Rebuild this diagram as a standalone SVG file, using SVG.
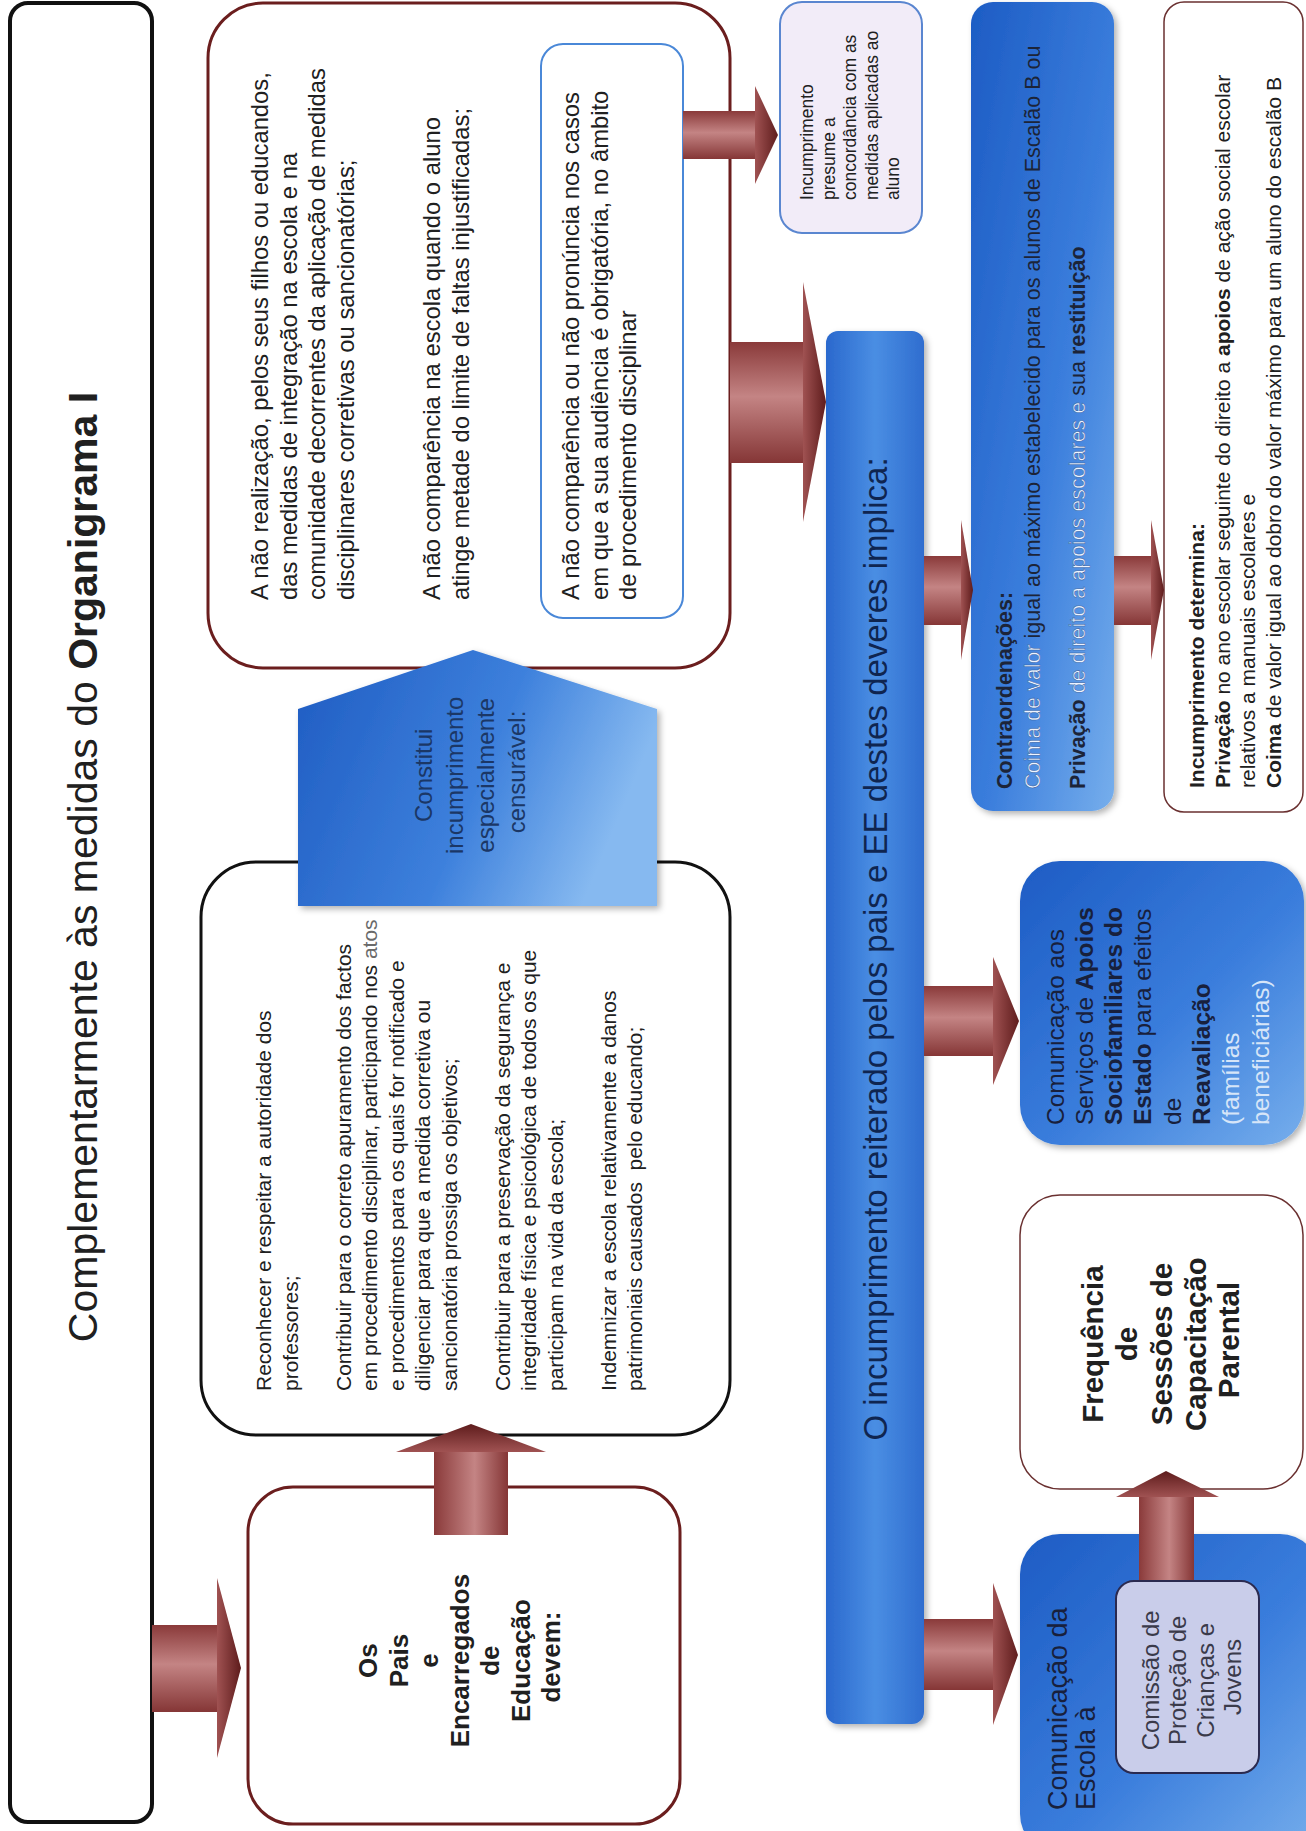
<svg xmlns="http://www.w3.org/2000/svg" width="1306" height="1831" viewBox="0 0 1306 1831">
<style>
.t{font-family:"Liberation Sans",Arial,sans-serif;fill:#202020}
.b{font-weight:bold}
.box{fill:#fff}
.red{stroke:#6b1e1e;stroke-width:3}
.blk{stroke:#111;stroke-width:3}
.blue{filter:url(#sh)}
.lt{fill:#eef4ff;stroke:#2f5a9e;stroke-width:0.5}
</style>
<defs>
<filter id="sh" x="-10%" y="-10%" width="125%" height="125%"><feDropShadow dx="3" dy="3" stdDeviation="3" flood-color="#000" flood-opacity="0.3"/></filter>
<linearGradient id="blueG" x1="0" y1="0" x2="1" y2="1"><stop offset="0" stop-color="#1d5cc4"/><stop offset="0.55" stop-color="#3a7ddc"/><stop offset="1" stop-color="#76aeec"/></linearGradient>
<linearGradient id="barG" x1="0" y1="0" x2="1" y2="0"><stop offset="0" stop-color="#2a68cd"/><stop offset="0.5" stop-color="#4a8ee3"/><stop offset="1" stop-color="#2f6dcf"/></linearGradient>
<linearGradient id="pentG" x1="0" y1="0" x2="1" y2="0.3"><stop offset="0" stop-color="#1f5cc2"/><stop offset="0.6" stop-color="#3d80dc"/><stop offset="1" stop-color="#86b9f0"/></linearGradient>
<linearGradient id="arrH" x1="0" y1="0" x2="0" y2="1"><stop offset="0" stop-color="#8a3a3a"/><stop offset="0.45" stop-color="#c48484"/><stop offset="1" stop-color="#853636"/></linearGradient>
<linearGradient id="arrV" x1="0" y1="0" x2="1" y2="0"><stop offset="0" stop-color="#8a3a3a"/><stop offset="0.55" stop-color="#c48484"/><stop offset="1" stop-color="#853636"/></linearGradient>
<linearGradient id="headH" x1="0" y1="0" x2="1" y2="0"><stop offset="0" stop-color="#a05252"/><stop offset="1" stop-color="#5e1c1c"/></linearGradient>
<linearGradient id="headV" x1="0" y1="1" x2="0" y2="0"><stop offset="0" stop-color="#a05252"/><stop offset="1" stop-color="#5e1c1c"/></linearGradient>
</defs>
<rect width="1306" height="1831" fill="#fff"/>

<g id="title">
<rect x="10" y="3" width="142" height="1819" rx="18" fill="#fff" stroke="#111" stroke-width="4"/>
<text class="t" font-size="41" text-anchor="middle" transform="translate(0,867) rotate(-90)"><tspan x="0" y="97">Complementarmente às medidas do <tspan class="b">Organigrama I</tspan></tspan></text>
</g>

<g id="incumprimentos">
<rect class="box red" x="208" y="3" width="522" height="665" rx="55"/>
<text class="t" font-size="23.8" transform="translate(0,600) rotate(-90)">
<tspan x="0" y="268">A não realização, pelos seus filhos ou educandos,</tspan>
<tspan x="0" y="296.5">das medidas de integração na escola e na</tspan>
<tspan x="0" y="325">comunidade decorrentes da aplicação de medidas</tspan>
<tspan x="0" y="353.5">disciplinares corretivas ou sancionatórias;</tspan>
<tspan x="0" y="440">A não comparência na escola quando o aluno</tspan>
<tspan x="0" y="468.5">atinge metade do limite de faltas injustificadas;</tspan>
</text>
</g>

<g id="audiencia">
<rect x="541" y="44" width="142" height="574" rx="22" fill="#fff" stroke="#4a88d8" stroke-width="2"/>
<text class="t" font-size="23.8" transform="translate(0,600) rotate(-90)">
<tspan x="0" y="579">A não comparência ou não pronúncia nos casos</tspan>
<tspan x="0" y="607.5">em que a sua audiência é obrigatória, no âmbito</tspan>
<tspan x="0" y="636">de procedimento disciplinar</tspan>
</text>
</g>

<g id="presume">
<rect x="780" y="2" width="142" height="231" rx="22" fill="#f2ecf8" stroke="#5a86d0" stroke-width="2"/>
<text class="t" font-size="17.5" transform="translate(0,200) rotate(-90)">
<tspan x="0" y="813">Incumprimento</tspan>
<tspan x="0" y="834.5">presume a</tspan>
<tspan x="0" y="856">concordância com as</tspan>
<tspan x="0" y="877.5">medidas aplicadas ao</tspan>
<tspan x="0" y="899">aluno</tspan>
</text>
</g>

<g id="deveres">
<rect class="box blk" x="201" y="862" width="529" height="573" rx="55"/>
<text class="t" font-size="21" transform="translate(0,1391) rotate(-90)">
<tspan x="0" y="271">Reconhecer e respeitar a autoridade dos</tspan>
<tspan x="0" y="297.5">professores;</tspan>
<tspan x="0" y="350.5">Contribuir para o correto apuramento dos factos</tspan>
<tspan x="0" y="377">em procedimento disciplinar, participando nos <tspan fill="#6a6a6a">atos</tspan></tspan>
<tspan x="0" y="403.5">e procedimentos para os quais for notificado e</tspan>
<tspan x="0" y="430">diligenciar para que a medida corretiva ou</tspan>
<tspan x="0" y="456.5">sancionatória prossiga os objetivos;</tspan>
<tspan x="0" y="509.5">Contribuir para a preservação da segurança e</tspan>
<tspan x="0" y="536">integridade física e psicológica de todos os que</tspan>
<tspan x="0" y="562.5">participam na vida da escola;</tspan>
<tspan x="0" y="615.5">Indemnizar a escola relativamente a danos</tspan>
<tspan x="0" y="642">patrimoniais causados&#160; pelo educando;</tspan>
</text>
</g>

<g id="censuravel">
<polygon class="blue" points="298,906 298,709 473,650 657,709 657,906" fill="url(#pentG)"/>
<text class="t" font-size="24" text-anchor="middle" style="fill:#1b3766" transform="translate(0,772) rotate(-90)">
<tspan x="0" y="431.5">Constitui</tspan>
<tspan x="0" y="462.5">incumprimento</tspan>
<tspan x="0" y="493.5">especialmente</tspan>
<tspan x="0" y="524.5">censurável:</tspan>
</text>
</g>

<g id="pais">
<rect class="box red" x="248" y="1487" width="432" height="337" rx="45"/>
<text class="t b" font-size="26" text-anchor="middle" transform="translate(0,1657) rotate(-90)">
<tspan x="0" y="377">Os</tspan>
<tspan x="0" y="407.5">Pais</tspan>
<tspan x="0" y="438">e</tspan>
<tspan x="0" y="468.5">Encarregados</tspan>
<tspan x="0" y="499">de</tspan>
<tspan x="0" y="529.5">Educação</tspan>
<tspan x="0" y="560">devem:</tspan>
</text>
</g>

<g id="reiterado">
<rect class="blue" x="826" y="331" width="98" height="1393" rx="12" fill="url(#barG)"/>
<text class="t" font-size="33" text-anchor="middle" style="fill:#0f2550" transform="translate(0,949) rotate(-90)"><tspan x="0" y="887">O incumprimento reiterado pelos pais e EE destes deveres implica:</tspan></text>
</g>

<g id="contraordenacoes">
<rect class="blue" x="971" y="2" width="143" height="809" rx="22" fill="url(#blueG)"/>
<text class="t" font-size="21.5" style="fill:#1c2438" transform="translate(0,789) rotate(-90)">
<tspan x="0" y="1012" class="b">Contraordenações:</tspan>
<tspan x="0" y="1039.5"><tspan class="lt">Coima de valor</tspan> igual ao máximo estabelecido para os alunos de Escalão B ou</tspan>
<tspan x="0" y="1085"><tspan class="b">Privação</tspan> <tspan class="lt">de direito a apoios escolares e</tspan> sua <tspan class="b">restituição</tspan></tspan>
</text>
</g>

<g id="determina">
<rect x="1164" y="2" width="139" height="810" rx="20" fill="#fff" stroke="#6a3030" stroke-width="1.5"/>
<text class="t" font-size="21" transform="translate(0,788) rotate(-90)">
<tspan x="0" y="1204" class="b">Incumprimento determina:</tspan>
<tspan x="0" y="1229.5"><tspan class="b">Privação</tspan> no ano escolar seguinte do direito a <tspan class="b">apoios</tspan> de ação social escolar</tspan>
<tspan x="0" y="1255">relativos a manuais escolares e</tspan>
<tspan x="0" y="1280.5"><tspan class="b">Coima</tspan> de valor igual ao dobro do valor máximo para um aluno do escalão B</tspan>
</text>
</g>

<g id="sociofamiliares">
<rect class="blue" x="1020" y="861" width="284" height="284" rx="40" fill="url(#blueG)"/>
<text class="t" font-size="24.5" style="fill:#18203c" transform="translate(0,1125) rotate(-90)">
<tspan x="0" y="1063.5">Comunicação aos</tspan>
<tspan x="0" y="1092.8">Serviços de <tspan class="b">Apoios</tspan></tspan>
<tspan x="0" y="1122.1" class="b">Sociofamiliares do</tspan>
<tspan x="0" y="1151.4"><tspan class="b">Estado</tspan> para efeitos</tspan>
<tspan x="0" y="1180.7">de</tspan>
<tspan x="0" y="1210" class="b">Reavaliação</tspan>
<tspan x="0" y="1239.3" style="fill:#d6e5f8">(famílias</tspan>
<tspan x="0" y="1268.6" style="fill:#d6e5f8">beneficiárias)</tspan>
</text>
</g>

<g id="capacitacao">
<rect x="1020" y="1195" width="283" height="294" rx="40" fill="#fff" stroke="#6a3030" stroke-width="1.5"/>
<text class="t b" font-size="29.5" text-anchor="middle" transform="translate(0,1340) rotate(-90)">
<tspan x="0" y="1102.5">Frequência</tspan>
<tspan x="0" y="1137">de</tspan>
<tspan x="0" y="1172">Sessões de</tspan>
<tspan x="0" y="1205.5">Capacitação</tspan>
<tspan x="0" y="1238.5">Parental</tspan>
</text>
</g>

<g id="escola">
<rect class="blue" x="1020" y="1534" width="300" height="320" rx="40" fill="url(#blueG)"/>
<text class="t" font-size="27" style="fill:#18203c" transform="translate(0,1810) rotate(-90)">
<tspan x="0" y="1066.5">Comunicação da</tspan>
<tspan x="0" y="1094.5">Escola à</tspan>
</text>
</g>

<g id="connectors">
<g id="c1"><rect x="152" y="1625" width="65" height="87" fill="url(#arrH)"/><polygon points="217,1578 241,1668 217,1758" fill="url(#headH)"/></g>
<g id="c2"><rect x="434" y="1452" width="74" height="83" fill="url(#arrV)"/><polygon points="396,1452 471,1424 546,1452" fill="url(#headV)"/></g>
<g id="c3"><rect x="683" y="111" width="72" height="48" fill="url(#arrH)"/><polygon points="755,86 778,135 755,184" fill="url(#headH)"/></g>
<g id="c4"><rect x="730" y="342" width="73" height="121" fill="url(#arrH)"/><polygon points="803,282 826,402 803,522" fill="url(#headH)"/></g>
<g id="c5"><rect x="924" y="556" width="37" height="69" fill="url(#arrH)"/><polygon points="961,520 973,590 961,660" fill="url(#headH)"/></g>
<g id="c6"><rect x="1114" y="556" width="37" height="69" fill="url(#arrH)"/><polygon points="1151,520 1164,590 1151,660" fill="url(#headH)"/></g>
<g id="c7"><rect x="924" y="986" width="69" height="70" fill="url(#arrH)"/><polygon points="993,957 1019,1021 993,1085" fill="url(#headH)"/></g>
<g id="c8"><rect x="924" y="1619" width="69" height="71" fill="url(#arrH)"/><polygon points="993,1583 1018,1655 993,1725" fill="url(#headH)"/></g>
<g id="c9"><rect x="1139" y="1497" width="55" height="84" fill="url(#arrV)"/><polygon points="1116,1497 1166,1471 1219,1497" fill="url(#headV)"/></g>
</g>

<g id="cpcj">
<rect x="1116" y="1581" width="143" height="192" rx="18" fill="#c9cdea" stroke="#2a2a50" stroke-width="2"/>
<text class="t" font-size="24" text-anchor="middle" style="fill:#3a3a4a" transform="translate(0,1677) rotate(-90)">
<tspan x="0" y="1158.5">Comissão de</tspan>
<tspan x="0" y="1186">Proteção de</tspan>
<tspan x="0" y="1213.5">Crianças e</tspan>
<tspan x="0" y="1240.5">Jovens</tspan>
</text>
</g>
</svg>
